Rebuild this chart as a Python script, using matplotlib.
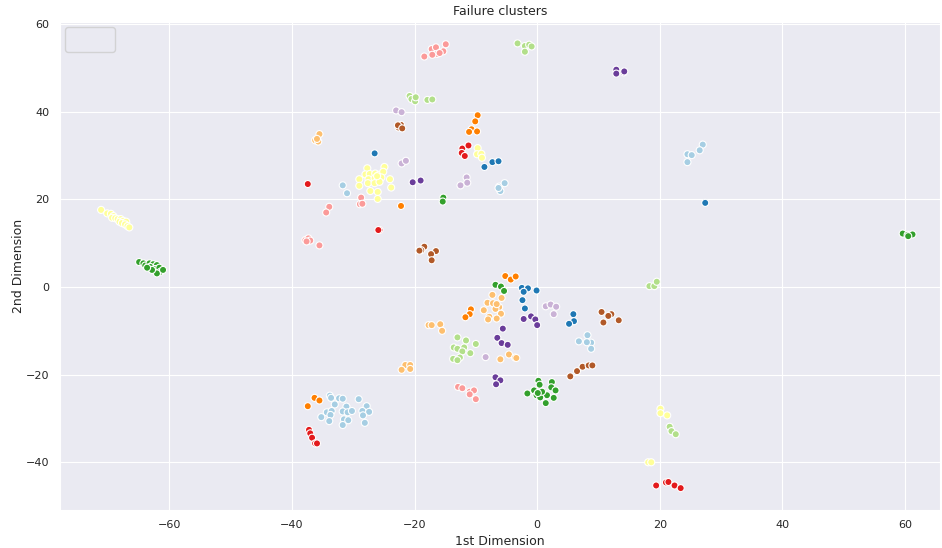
import matplotlib
matplotlib.use("Agg")
import matplotlib.pyplot as plt
from matplotlib.lines import Line2D
import seaborn as sns

# Embedded coordinates of the failure records, grouped by cluster.
# A cluster label picks its colour from the 12-colour "Paired" palette (label % 12).
dim1 = []
dim2 = []
cluster = []


def add(label, xs, ys):
    dim1.extend(xs)
    dim2.extend(ys)
    cluster.extend([label] * len(xs))


add(10, [-71.1, -70.1, -69.5, -69.1, -69.3, -68.8, -68.4, -67.9, -68.1, -67.5, -67.7, -67.0, -67.2, -66.8, -66.5],
        [17.6, 16.8, 16.7, 16.2, 15.8, 15.7, 15.5, 15.5, 14.9, 15.1, 14.6, 14.9, 14.3, 13.9, 13.6])
add(3, [-64.9, -64.2, -63.9, -63.2, -62.6, -63.1, -62.0, -62.3, -61.6, -61.4, -62.0, -62.8, -63.6, -61.0],
       [5.7, 5.4, 4.9, 5.4, 5.2, 4.6, 5.0, 4.1, 4.4, 3.5, 3.1, 3.9, 4.4, 3.9])
add(6, [-35.5, -36.2, -35.7, -35.9], [34.9, 33.5, 33.2, 33.8])
add(5, [-37.4], [23.5])
add(12, [-31.7, -31.0], [23.2, 21.4])
add(4, [-33.9, -34.4], [18.3, 17.0])
add(16, [-37.8, -37.3, -37.0, -37.6, -35.5], [10.7, 11.1, 10.6, 10.4, 9.5])
add(28, [-18.4, -17.2, -16.5, -14.9, -15.3, -16.3, -17.1, -15.9], [52.6, 54.3, 54.7, 55.4, 53.8, 53.2, 53.0, 53.4])
add(2, [-3.2, -2.0, -1.3, -0.9, -2.0], [55.6, 55.0, 55.3, 54.9, 53.7])
add(14, [-20.8, -20.5, -19.9, -19.8, -17.9, -17.1], [43.6, 42.9, 42.4, 43.3, 42.7, 42.8])
add(8, [-23.0, -22.1], [40.3, 39.9])
add(11, [-22.6, -22.2, -22.7, -22.0], [36.4, 37.0, 36.9, 36.2])
add(7, [-9.7, -10.1, -10.7, -9.8, -11.1], [39.2, 37.8, 36.0, 35.5, 35.4])
add(17, [-12.2, -11.2, -12.3, -11.8], [31.6, 32.3, 30.6, 29.9])
add(22, [-9.7, -9.8, -9.1, -9.0], [31.7, 30.3, 30.4, 29.5])
add(13, [-8.6, -7.3, -6.3], [27.4, 28.5, 28.7])
add(25, [-26.5], [30.5])
add(20, [-22.1, -21.4], [28.2, 28.8])
add(32, [-11.5, -11.4, -12.5], [25.0, 23.8, 23.2])
add(24, [-6.2, -5.3, -6.0, -6.3], [22.9, 23.7, 21.9, 22.6])
add(9, [-20.3, -19.0], [23.9, 24.3])
add(15, [-15.3, -15.4], [20.4, 19.5])
add(19, [-22.2], [18.5])
add(34, [-27.7, -24.9, -28.0, -27.3, -26.4, -25.8, -25.1, -25.4, -29.0, -27.5, -26.5, -24.0, -29.0,
         -27.6, -26.5, -25.7, -23.8, -27.2, -26.0, -26.0, -26.1],
        [27.1, 27.4, 25.7, 25.8, 25.9, 25.6, 26.3, 25.0, 24.6, 24.6, 24.8, 24.6, 23.1,
         23.7, 23.7, 24.0, 22.7, 21.9, 21.7, 20.1, 25.3])
add(40, [-28.7, -28.9, -28.5], [20.4, 18.9, 19.0])
add(29, [-25.7, -25.9], [13.0, 13.0])
add(23, [-18.4, -18.9, -19.2, -16.5, -17.3, -17.2], [9.2, 8.4, 8.3, 8.2, 7.5, 6.1])
add(31, [-5.2, -4.3, -3.5], [2.5, 1.7, 2.4])
add(27, [-6.8, -5.9, -5.4], [0.5, 0.1, -0.9])
add(37, [-2.5, -1.5, -2.2, -0.1, -2.4, -2.0], [-0.2, -0.3, -1.1, -0.8, -3.0, -4.9])
add(18, [-7.3, -5.8, -8.1, -7.2, -6.2, -6.8, -8.7, -5.9, -7.8, -6.6, -8.0, -6.6],
        [-1.8, -2.5, -3.6, -3.7, -4.6, -5.0, -5.3, -6.1, -6.8, -7.2, -7.4, -3.9])
add(43, [-10.8, -11.0, -11.7], [-5.1, -6.2, -6.9])
add(44, [1.4, 2.2, 3.1, 2.7], [-4.4, -4.0, -4.5, -6.2])
add(21, [-1.0, -0.3, -2.2, 0.0], [-6.7, -7.4, -7.3, -8.7])
add(33, [-5.6, -6.5, -5.8, -4.8], [-9.5, -11.6, -12.8, -13.2])
add(49, [5.9, 6.0, 5.2], [-6.2, -7.8, -8.4])
add(35, [10.5, 12.1, 11.6, 10.8, 13.3], [-5.7, -6.2, -6.6, -8.1, -7.6])
add(36, [8.2, 6.8, 8.8, 8.1, 8.8], [-11.0, -12.4, -12.7, -12.6, -14.1])
add(30, [-17.7, -17.2, -15.8, -15.5], [-8.7, -8.7, -8.5, -10.0])
add(26, [-13.0, -11.6, -10.0, -13.6, -13.0, -11.9, -12.2, -10.9, -12.6, -13.7, -13.0],
        [-11.5, -12.2, -13.0, -13.8, -14.1, -13.8, -14.7, -15.1, -16.1, -16.4, -16.7])
add(56, [-8.4], [-16.0])
add(42, [-6.0, -4.6, -3.6, -3.4], [-16.5, -15.4, -16.1, -16.2])
add(54, [-21.5, -20.7, -22.1, -20.7], [-17.8, -17.8, -18.9, -18.7])
add(47, [5.4, 6.5, 7.4, 8.4, 9.0], [-20.4, -19.2, -18.2, -17.9, -17.9])
add(45, [-6.8, -6.0, -6.7], [-20.6, -21.3, -22.2])
add(52, [-12.9, -12.2, -11.0, -10.3, -11.0, -10.0], [-22.8, -23.1, -23.9, -23.6, -24.5, -25.6])
add(39, [0.2, 2.4, 0.4, 2.3, -0.5, 1.0, 3.0, -1.6, -0.1, 1.6, 0.5, 2.7, 1.4, 0.8, 0.1],
        [-21.4, -21.7, -22.3, -22.9, -23.6, -23.9, -23.6, -24.3, -24.7, -24.7, -25.2, -25.3, -26.5, -23.9, -24.2])
add(55, [-36.3, -35.5, -37.4], [-25.3, -25.9, -27.2])
add(48, [-33.8, -33.6, -32.3, -31.7, -29.1, -33.0, -31.1, -27.8, -34.3, -33.5, -31.7, -30.9, -30.2,
         -28.5, -27.4, -33.7, -35.2, -28.4, -31.5, -30.8, -33.9, -31.7, -28.1],
        [-24.8, -25.3, -25.4, -25.5, -25.6, -26.8, -27.3, -27.2, -28.6, -28.3, -28.4, -28.6, -28.3,
         -28.3, -28.5, -29.2, -29.7, -29.3, -30.2, -30.4, -30.6, -31.5, -31.0])
add(41, [-37.2, -37.0, -36.7, -36.2, -35.9], [-32.6, -33.4, -34.4, -35.7, -35.7])
add(57, [12.9, 12.9, 14.1, 14.2], [49.6, 48.7, 49.0, 49.2])
add(60, [27.0, 26.5, 24.5, 25.2, 24.5], [32.5, 31.2, 30.3, 30.1, 28.5])
add(61, [27.4], [19.2])
add(38, [18.3, 19.1, 19.5], [0.2, 0.2, 1.2])
add(46, [20.1, 20.1, 21.2], [-27.8, -28.8, -29.3])
add(50, [21.6, 21.9, 22.6], [-31.9, -32.9, -33.6])
add(58, [18.1, 18.6], [-40.0, -40.0])
add(53, [19.4, 21.0, 21.4, 22.4, 23.4], [-45.3, -44.6, -44.5, -45.3, -45.9])
add(51, [59.6, 60.4, 61.2, 60.5], [12.2, 11.9, 12.0, 11.6])

sns.set_style("darkgrid")
plt.rcParams["font.family"] = ["DejaVu Sans"]

paired = sns.color_palette("Paired", 12)
colors = [paired[c % 12] for c in cluster]

fig = plt.figure(figsize=(9.42, 5.48), dpi=100)
ax = fig.add_axes([0.0637, 0.0693, 0.9343, 0.8907])
ax.scatter(dim1, dim2, c=colors, s=26, edgecolors="white", linewidths=0.8, zorder=3)

ax.set_xlim(-77.8, 65.7)
ax.set_ylim(-50.9, 60.5)
ax.set_xticks([-60, -40, -20, 0, 20, 40, 60])
ax.set_yticks([-40, -20, 0, 20, 40, 60])
ax.tick_params(labelsize=8, colors="#262626", pad=4)
ax.set_xlabel("1st Dimension", fontsize=9, labelpad=3)
ax.set_ylabel("2nd Dimension", fontsize=9, labelpad=1)
ax.set_title("Failure clusters", fontsize=9, pad=5)

# legend frame with a single unlabeled, invisible entry
blank = Line2D([], [], linestyle="none", marker="none")
ax.legend(handles=[blank], labels=[""], loc="upper left", borderaxespad=0.35)

fig.savefig("out.png", dpi=100)
